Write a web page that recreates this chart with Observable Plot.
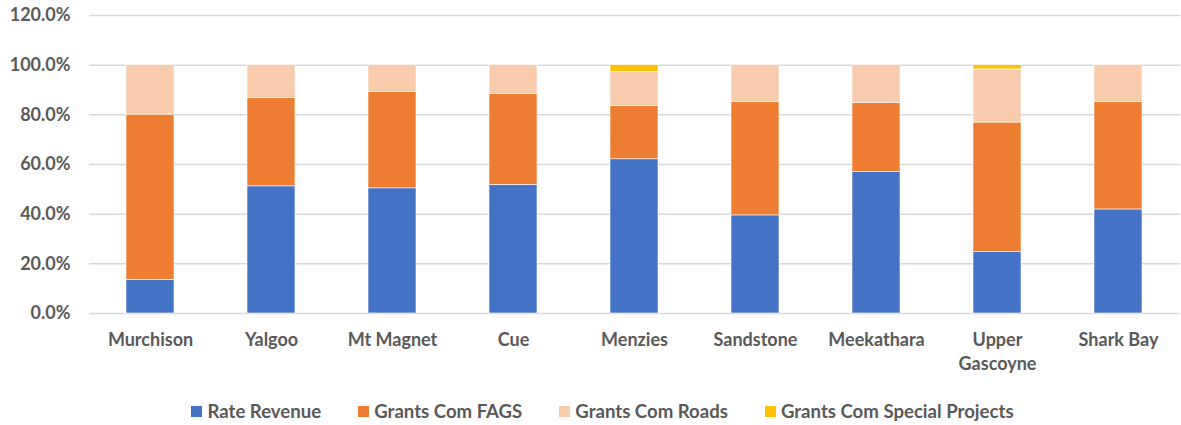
<!DOCTYPE html>
<html><head><meta charset="utf-8">
<script src="https://cdn.jsdelivr.net/npm/d3@7"></script>
<script src="https://cdn.jsdelivr.net/npm/@observablehq/plot@0.6"></script>
<style>
body{margin:0;background:#fff;font-family:Lato,"Open Sans",sans-serif;}
#chart{width:1181px;height:425px;position:relative;}
#legend{position:absolute;top:402px;left:12px;width:1181px;display:flex;justify-content:center;font-weight:bold;font-size:18.6px;line-height:18px;color:#595959;}
#legend .item{display:flex;align-items:center;margin:0 18.5px;}
#legend .sw{width:11px;height:11px;margin-right:5px;}
</style></head>
<body><div id="chart"></div>
<script>
const councils = ["Murchison","Yalgoo","Mt Magnet","Cue","Menzies","Sandstone","Meekathara","Upper Gascoyne","Shark Bay"];
const series = ["Rate Revenue","Grants Com FAGS","Grants Com Roads","Grants Com Special Projects"];
const colors = ["#4472C4","#ED7D31","#F8CBAD","#FFC000"];
const rateRevenue = [13.5, 51.2, 50.4, 51.8, 62.1, 39.5, 57.0, 24.8, 41.9];
const grantsFAGS = [66.6, 35.5, 38.9, 36.7, 21.4, 45.7, 27.7, 52.1, 43.2];
const grantsRoads = [19.9, 13.3, 10.7, 11.5, 13.7, 14.8, 15.3, 21.4, 14.9];
const grantsSpecial = [0, 0, 0, 0, 2.8, 0, 0, 1.7, 0];
const yTicks = [0, 20, 40, 60, 80, 100, 120];

const valuesBySeries = [rateRevenue, grantsFAGS, grantsRoads, grantsSpecial];
const data = [];
series.forEach((s, si) => councils.forEach((c, ci) => data.push({council: c, series: s, value: valuesBySeries[si][ci] / 100})));

const plot = Plot.plot({
  width: 1181, height: 385,
  marginLeft: 89, marginRight: 1, marginTop: 15, marginBottom: 72,
  style: {fontFamily: "Lato, 'Open Sans', sans-serif", fontSize: "18px", fontWeight: "bold", color: "#595959", background: "#fff"},
  x: {domain: councils, paddingInner: 0.6, paddingOuter: 0.3, label: null},
  y: {domain: [0, 1.2], label: null},
  color: {domain: series, range: colors},
  marks: [
    Plot.gridY(yTicks.map(d => d / 100), {stroke: "#D9D9D9", strokeOpacity: 1, strokeWidth: 1.5}),
    Plot.barY(data, Plot.stackY({x: "council", y: "value", fill: "series", order: series, stroke: "#fff", strokeWidth: 0.6})),
    Plot.axisY({ticks: yTicks.map(d => d / 100), tickFormat: d => (d * 100).toFixed(1) + "%", tickSize: 0, tickPadding: 19, fill: "#595959", fontSize: 18, label: null}),
    Plot.axisX({tickSize: 0, tickPadding: 16, fill: "#595959", fontSize: 18, label: null, lineHeight: 1.3,
      tickFormat: d => d === "Upper Gascoyne" ? "Upper\nGascoyne" : d})
  ]
});
const chart = document.getElementById("chart");
chart.appendChild(plot);
const legend = document.createElement("div");
legend.id = "legend";
series.forEach((s, i) => {
  const it = document.createElement("div"); it.className = "item";
  const sw = document.createElement("span"); sw.className = "sw"; sw.style.background = colors[i];
  const t = document.createElement("span"); t.textContent = s;
  it.appendChild(sw); it.appendChild(t); legend.appendChild(it);
});
chart.appendChild(legend);
</script></body></html>
